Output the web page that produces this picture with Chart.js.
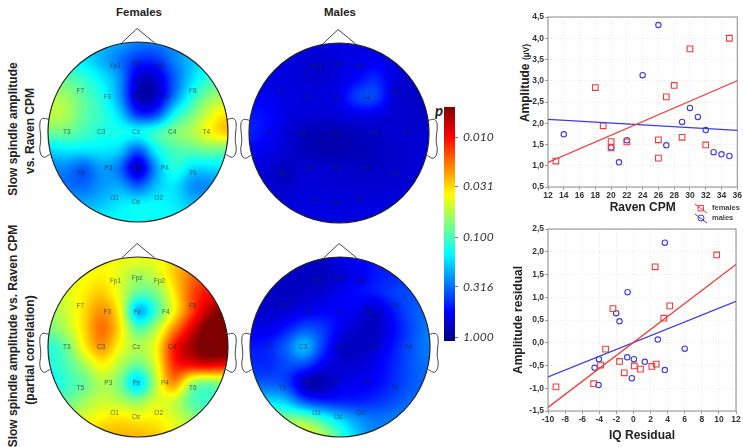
<!DOCTYPE html>
<html>
<head>
<meta charset="utf-8">
<title>Slow spindle amplitude vs. Raven CPM</title>
<script src="https://cdn.jsdelivr.net/npm/chart.js@4"></script>
<style>
  html, body { margin: 0; padding: 0; background: #fff; }
  body { position: relative; width: 743px; height: 447px; overflow: hidden; font-family: "Liberation Sans", Arial, sans-serif; filter: blur(0.35px); }
  canvas { position: absolute; }
  .txt { position: absolute; white-space: nowrap; color: #222; }
  .rot { transform: translate(-50%, -50%) rotate(-90deg); font-weight: bold; font-size: 12px; }
  .head { font-weight: bold; font-size: 11.5px; transform: translateX(-50%); }
</style>
</head>
<body>
<div class="txt head" style="left:139px;top:6px">Females</div>
<div class="txt head" style="left:340px;top:6px">Males</div>
<div class="txt rot" style="left:13px;top:129px">Slow spindle amplitude</div>
<div class="txt rot" style="left:30px;top:131px">vs. Raven CPM</div>
<div class="txt rot" style="left:13px;top:336px">Slow spindle amplitude vs. Raven CPM</div>
<div class="txt rot" style="left:30px;top:350px">(partial correlation)</div>
<div class="txt rot" style="left:525px;top:83px">Amplitude <span style="font-size:8.5px">(µV)</span></div>
<div class="txt" style="left:435px;top:101px;font:italic bold 15px Lato, sans-serif">p</div>

<canvas id="headFemales" width="220" height="220" style="left:27.5px;top:22px"></canvas>
<canvas id="headMales" width="220" height="220" style="left:229px;top:23px"></canvas>
<canvas id="headFemalesPartial" width="220" height="220" style="left:27.5px;top:237px"></canvas>
<canvas id="headMalesPartial" width="220" height="220" style="left:229.5px;top:237px"></canvas>
<canvas id="pBar" width="64" height="250" style="left:436px;top:100px"></canvas>
<canvas id="ravenScatter" width="238" height="221" style="left:505px;top:5px"></canvas>
<canvas id="iqScatter" width="238" height="225" style="left:505px;top:222px"></canvas>

<script>
// --- scatter data ---
const ravenFemalesX = [13, 18, 19, 20, 20, 22, 26, 26, 27, 28, 29, 30, 32, 35];
const ravenFemalesY = [1.11, 2.84, 1.94, 1.57, 1.42, 1.56, 1.61, 1.18, 2.62, 2.89, 1.67, 3.75, 1.49, 4.0];
const ravenMalesX = [14, 20, 21, 22, 24, 26, 27, 29, 30, 31, 32, 33, 34, 35];
const ravenMalesY = [1.74, 1.43, 1.08, 1.6, 3.13, 4.31, 1.48, 2.03, 2.36, 2.15, 1.84, 1.32, 1.27, 1.23];
const ravenFitX = [12, 36];
const ravenFitFemales = [1.08, 3.0];
const ravenFitMales = [2.09, 1.83];

const iqFemalesX = [-9.07, -4.66, -3.85, -3.26, -2.4, -1.63, -1.08, 0.09, 0.82, 2.15, 2.66, 2.54, 3.55, 4.25, 9.74];
const iqFemalesY = [-0.97, -0.9, -0.49, -0.14, 0.75, -0.41, -0.66, -0.51, -0.58, -0.52, -0.47, 1.67, 0.54, 0.81, 1.93];
const iqMalesX = [-4.55, -4.04, -4.08, -2.02, -1.63, -0.69, -0.73, -0.19, 0.05, 1.33, 2.85, 3.67, 3.67, 6.0];
const iqMalesY = [-0.55, -0.36, -0.93, 0.65, 0.47, 1.11, -0.32, -0.78, -0.36, -0.42, 0.07, 2.2, -0.6, -0.13];
const iqFitX = [-10, 12];
const iqFitFemales = [-1.42, 1.72];
const iqFitMales = [-0.75, 0.91];

// --- p colour bar ---
const pTicks = [0.010, 0.031, 0.100, 0.316, 1.000];
const pBarRange = [1.096, 0.00501];

// --- electrodes on the head (unit circle = scalp outline) ---
const sensorNames = ['Fp1','Fpz','Fp2','F7','F3','Fz','F4','F8','T3','C3','Cz','C4','T4','T5','P3','Pz','P4','T6','O1','Oz','O2'];
const sensorX = [-0.25,-0.01,0.24,-0.64,-0.34,-0.01,0.31,0.61,-0.79,-0.41,-0.02,0.38,0.76,-0.64,-0.33,-0.02,0.30,0.61,-0.26,-0.02,0.23];
const sensorY = [0.73,0.76,0.73,0.45,0.39,0.39,0.39,0.45,0,0,0,0,0,-0.46,-0.40,-0.40,-0.40,-0.46,-0.74,-0.78,-0.74];
const noseX = [-0.18, -0.01, 0.185];
const noseY = [0.99, 1.15, 0.99];
const earX = [0.99, 1.06, 1.09, 1.08, 1.09, 1.05, 0.98];
const earY = [0.14, 0.15, 0.10, -0.08, -0.21, -0.28, -0.25];

// --- topographic maps: -log10(p) on a regular grid ---
const gridSteps = [-1, -0.8, -0.6, -0.4, -0.2, 0, 0.2, 0.4, 0.6, 0.8, 1];
// rows run from the nose (y = 1) to the back of the head (y = -1)
const femalesField = [
  .75,.75,.75,.7,.65,.55,.55,.6,.7,.75,.75,
  .85,.85,.78,.65,.5,.35,.35,.55,.7,.8,.8,
  1.05,1.05,.95,.8,.6,.12,.12,.45,.75,.95,1.0,
  1.25,1.2,1.05,.9,.6,.05,.07,.5,.9,1.15,1.25,
  1.3,1.25,1.05,.95,.75,.3,.35,.85,1.1,1.35,1.5,
  1.1,1.1,1.0,.9,.9,.9,1.0,1.15,1.25,1.45,1.6,
  .75,.8,.8,.8,.75,.42,.85,1.0,1.05,1.1,1.05,
  .55,.55,.42,.62,.5,.02,.6,.95,.75,.75,.8,
  .55,.5,.48,.6,.65,.45,.7,.8,.55,.55,.6,
  .65,.65,.65,.7,.8,.85,.85,.8,.7,.65,.65,
  .8,.8,.8,.85,.85,.85,.85,.85,.8,.8,.8
];
const malesField = [
  .18,.18,.18,.18,.18,.18,.18,.18,.18,.18,.18,
  .18,.18,.18,.16,.13,.18,.2,.22,.18,.16,.16,
  .18,.18,.18,.16,.14,.18,.25,.36,.18,.14,.13,
  .24,.22,.19,.18,.18,.2,.42,.44,.17,.12,.11,
  .3,.27,.19,.17,.16,.17,.2,.18,.15,.13,.13,
  .33,.26,.16,.1,.07,.07,.1,.12,.15,.14,.15,
  .24,.2,.16,.1,.07,.07,.09,.1,.13,.15,.16,
  .18,.16,.09,.15,.15,.14,.12,.12,.14,.15,.16,
  .18,.16,.12,.17,.16,.15,.15,.15,.15,.16,.16,
  .18,.18,.18,.18,.18,.18,.18,.18,.18,.18,.18,
  .18,.18,.18,.18,.18,.18,.18,.18,.18,.18,.18
];
const femalesPartialField = [
  1.35,1.35,1.35,1.4,1.4,1.4,1.4,1.5,1.7,1.8,1.8,
  1.4,1.4,1.4,1.45,1.35,1.2,1.3,1.55,1.75,1.9,1.9,
  1.3,1.35,1.45,1.55,1.35,1.05,1.1,1.45,1.85,2.0,2.1,
  1.2,1.3,1.5,1.7,1.45,.55,.95,1.4,1.85,2.2,2.35,
  1.1,1.25,1.5,1.8,1.5,1.0,1.25,1.7,2.1,2.4,2.45,
  .9,1.05,1.45,1.7,1.4,1.25,1.4,2.0,2.25,2.45,2.45,
  .9,1.0,1.2,1.45,1.25,1.05,1.35,1.95,2.05,2.1,2.0,
  .8,.95,1.05,1.25,1.1,.65,1.25,1.75,1.15,1.05,1.2,
  1.0,1.05,1.2,1.3,1.25,1.15,1.35,1.3,1.0,.95,1.0,
  1.3,1.3,1.35,1.45,1.5,1.45,1.45,1.35,1.2,1.1,1.1,
  1.55,1.55,1.55,1.6,1.6,1.6,1.55,1.45,1.3,1.2,1.2
];
const malesPartialField = [
  .12,.12,.12,.12,.12,.2,.25,.3,.33,.33,.33,
  .12,.12,.12,.12,.1,.15,.2,.3,.33,.38,.38,
  .13,.13,.1,.12,.14,.22,.28,.32,.4,.42,.45,
  .15,.13,.14,.2,.24,.26,.2,.1,.3,.45,.5,
  .2,.2,.3,.45,.4,.22,.12,.1,.25,.42,.55,
  .3,.32,.48,.75,.4,.12,.1,.15,.3,.45,.55,
  .35,.33,.42,.42,.22,.14,.15,.22,.33,.45,.52,
  .45,.45,.4,.06,.03,.2,.22,.25,.35,.45,.5,
  .8,.75,.7,.4,.3,.3,.3,.35,.42,.5,.5,
  1.2,1.2,1.15,1.15,.95,.75,.6,.52,.55,.55,.55,
  1.45,1.45,1.45,1.45,1.3,1.0,.7,.55,.55,.55,.55
];

const clamp01 = v => Math.max(0, Math.min(1, v));

function jet(t) {
  const r = clamp01(Math.min(4 * t - 1.5, -4 * t + 4.5));
  const g = clamp01(Math.min(4 * t - 0.5, -4 * t + 3.5));
  const b = clamp01(Math.min(4 * t + 0.5, -4 * t + 2.5));
  return [Math.round(r * 255), Math.round(g * 255), Math.round(b * 255)];
}

// colour bar position of a -log10(p) value
function levelToT(s) {
  const lo = -Math.log10(pBarRange[0]);
  const hi = -Math.log10(pBarRange[1]);
  return clamp01((s - lo) / (hi - lo));
}

// cubic through the grid values, softened with a b-spline so the cells do not show
function cubic(p0, p1, p2, p3, f) {
  const through = 0.5 * (2 * p1 + (p2 - p0) * f + (2 * p0 - 5 * p1 + 4 * p2 - p3) * f * f + (3 * p1 - p0 - 3 * p2 + p3) * f * f * f);
  const g = 1 - f;
  const soft = (g * g * g * p0 + (3 * f * f * f - 6 * f * f + 4) * p1 + (-3 * f * f * f + 3 * f * f + 3 * f + 1) * p2 + f * f * f * p3) / 6;
  return 0.6 * through + 0.4 * soft;
}

function sampleField(field, hx, hy) {
  const n = gridSteps.length;
  const step = gridSteps[1] - gridSteps[0];
  const gx = Math.max(0, Math.min(n - 1.001, (hx - gridSteps[0]) / step));
  const gy = Math.max(0, Math.min(n - 1.001, (1 - hy) / step));
  const ix = Math.floor(gx), iy = Math.floor(gy);
  const at = (r, c) => field[Math.max(0, Math.min(n - 1, r)) * n + Math.max(0, Math.min(n - 1, c))];
  const row = r => cubic(at(r, ix - 1), at(r, ix), at(r, ix + 1), at(r, ix + 2), gx - ix);
  return cubic(row(iy - 1), row(iy), row(iy + 1), row(iy + 2), gy - iy);
}

// paints the cells of the first dataset inside the scalp outline, then outline and sensor names
const topoPlugin = {
  id: 'topo',
  beforeDatasetsDraw(chart) {
    const { ctx, scales: { x, y } } = chart;
    const field = chart.data.datasets[0].data.map(c => c.v);
    const x0 = Math.floor(x.getPixelForValue(-1)), x1 = Math.ceil(x.getPixelForValue(1));
    const y0 = Math.floor(y.getPixelForValue(1)), y1 = Math.ceil(y.getPixelForValue(-1));
    const w = x1 - x0, h = y1 - y0;
    const off = document.createElement('canvas');
    off.width = w; off.height = h;
    const octx = off.getContext('2d');
    const img = octx.createImageData(w, h);
    for (let j = 0; j < h; j++) {
      for (let i = 0; i < w; i++) {
        const c = jet(levelToT(sampleField(field, x.getValueForPixel(x0 + i + 0.5), y.getValueForPixel(y0 + j + 0.5))));
        const k = (j * w + i) * 4;
        img.data[k] = c[0]; img.data[k + 1] = c[1]; img.data[k + 2] = c[2]; img.data[k + 3] = 255;
      }
    }
    octx.putImageData(img, 0, 0);
    const cx = x.getPixelForValue(0), cy = y.getPixelForValue(0);
    const r = x.getPixelForValue(1) - cx;
    ctx.save();
    ctx.beginPath();
    ctx.arc(cx, cy, r, 0, Math.PI * 2);
    ctx.clip();
    ctx.drawImage(off, x0, y0);
    ctx.restore();
  },
  afterDatasetsDraw(chart) {
    const { ctx, scales: { x, y } } = chart;
    const cx = x.getPixelForValue(0), cy = y.getPixelForValue(0);
    ctx.save();
    ctx.beginPath();
    ctx.arc(cx, cy, x.getPixelForValue(1) - cx, 0, Math.PI * 2);
    ctx.strokeStyle = '#222';
    ctx.lineWidth = 1.2;
    ctx.stroke();
    ctx.font = '6.5px "Liberation Sans", Arial, sans-serif';
    ctx.fillStyle = 'rgba(20,40,50,0.72)';
    ctx.textAlign = 'center';
    ctx.textBaseline = 'middle';
    chart.data.datasets[1].data.forEach((p, i) => {
      ctx.fillText(sensorNames[i], x.getPixelForValue(p.x), y.getPixelForValue(p.y));
    });
    ctx.restore();
  }
};

function headChart(id, field) {
  const cells = [];
  gridSteps.slice().reverse().forEach((gy, r) => {
    gridSteps.forEach((gx, c) => cells.push({ x: gx, y: gy, v: field[r * gridSteps.length + c] }));
  });
  const outline = { showLine: true, pointRadius: 0, borderColor: '#444', borderWidth: 1, fill: false };
  return new Chart(document.getElementById(id), {
    type: 'scatter',
    data: {
      datasets: [
        { label: 'field', data: cells, pointRadius: 0 },
        { label: 'sensors', data: sensorNames.map((n, i) => ({ x: sensorX[i], y: sensorY[i] })), pointRadius: 0 },
        { label: 'nose', data: noseX.map((v, i) => ({ x: v, y: noseY[i] })), ...outline },
        { label: 'ear', data: earX.map((v, i) => ({ x: -v, y: earY[i] })), tension: 0.4, ...outline },
        { label: 'ear', data: earX.map((v, i) => ({ x: v, y: earY[i] })), tension: 0.4, ...outline }
      ]
    },
    options: {
      responsive: false,
      animation: false,
      events: [],
      layout: { padding: 0 },
      plugins: { legend: { display: false }, tooltip: { enabled: false } },
      scales: {
        x: { type: 'linear', display: false, min: -110 / 90, max: 110 / 90 },
        y: { type: 'linear', display: false, min: -110 / 90, max: 110 / 90 }
      }
    },
    plugins: [topoPlugin]
  });
}

headChart('headFemales', femalesField);
headChart('headMales', malesField);
headChart('headFemalesPartial', femalesPartialField);
headChart('headMalesPartial', malesPartialField);

// colour bar: one floating bar on a reversed log p axis
new Chart(document.getElementById('pBar'), {
  type: 'bar',
  data: {
    labels: ['p'],
    datasets: [{
      data: [pBarRange],
      barPercentage: 1,
      categoryPercentage: 1,
      borderSkipped: false,
      borderWidth: 0,
      backgroundColor(c) {
        const area = c.chart.chartArea;
        if (!area) return '#00f';
        const g = c.chart.ctx.createLinearGradient(0, area.bottom, 0, area.top);
        for (let i = 0; i <= 16; i++) {
          const rgb = jet(i / 16);
          g.addColorStop(i / 16, `rgb(${rgb[0]},${rgb[1]},${rgb[2]})`);
        }
        return g;
      }
    }]
  },
  options: {
    responsive: false,
    animation: false,
    events: [],
    layout: { padding: { left: 8, top: 7, bottom: 9, right: 0 } },
    plugins: { legend: { display: false }, tooltip: { enabled: false } },
    scales: {
      x: { display: false },
      y: {
        type: 'logarithmic',
        position: 'right',
        reverse: true,
        bounds: 'data',
        min: pBarRange[1],
        max: pBarRange[0],
        afterBuildTicks(axis) { axis.ticks = pTicks.map(v => ({ value: v })); },
        afterFit(axis) { axis.width = 45; axis.paddingTop = 0; axis.paddingBottom = 0; },
        border: { display: false },
        grid: { drawOnChartArea: false, tickLength: 3, tickColor: '#777' },
        ticks: {
          autoSkip: false,
          padding: 5,
          color: '#333',
          font: { family: 'Lato, sans-serif', style: 'italic', size: 12 },
          callback: v => v.toFixed(3)
        }
      }
    }
  }
});

// frame round the plot area and the small key of the upper panel
const framePlugin = {
  id: 'frame',
  beforeDatasetsDraw(chart) {
    const a = chart.chartArea;
    chart.ctx.save();
    chart.ctx.strokeStyle = '#8a8a8a';
    chart.ctx.lineWidth = 1;
    chart.ctx.strokeRect(a.left, a.top, a.right - a.left, a.bottom - a.top);
    chart.ctx.restore();
  },
  afterDraw(chart) {
    const key = chart.options.plugins.frame.key;
    if (!key) return;
    const ctx = chart.ctx;
    ctx.save();
    key.forEach(k => {
      ctx.strokeStyle = k.color;
      ctx.lineWidth = 1;
      ctx.beginPath();
      ctx.moveTo(190, k.y - 4);
      ctx.lineTo(202, k.y + 5);
      ctx.stroke();
      ctx.beginPath();
      if (k.square) ctx.rect(193, k.y - 2.5, 5.5, 5.5);
      else ctx.arc(196, k.y, 3, 0, Math.PI * 2);
      ctx.stroke();
      ctx.fillStyle = '#444';
      ctx.font = 'bold 7.5px "Liberation Sans", Arial, sans-serif';
      ctx.textBaseline = 'middle';
      ctx.fillText(k.text, 207, k.y);
    });
    ctx.restore();
  }
};

const RED = 'rgb(240,60,60)';
const BLUE = 'rgb(60,60,225)';
const toPoints = (xs, ys) => xs.map((v, i) => ({ x: v, y: ys[i] }));

function scatterChart(id, cfg) {
  const tickFont = { family: '"Liberation Sans", Arial, sans-serif', size: 8.5, weight: 'bold' };
  const grid = { color: '#dcdcdc', tickColor: '#777', tickLength: 3, lineWidth: 0.7 };
  const border = { display: false, dash: [1, 2] };
  return new Chart(document.getElementById(id), {
    type: 'scatter',
    data: {
      datasets: [
        { label: 'females fit', data: toPoints(cfg.fitX, cfg.fitFemales), showLine: true, pointRadius: 0, borderColor: RED, borderWidth: 1.3 },
        { label: 'males fit', data: toPoints(cfg.fitX, cfg.fitMales), showLine: true, pointRadius: 0, borderColor: BLUE, borderWidth: 1.3 },
        { label: 'females', data: toPoints(cfg.femalesX, cfg.femalesY), pointStyle: 'rect', pointRadius: 4, borderColor: RED, backgroundColor: 'transparent', borderWidth: 1.1 },
        { label: 'males', data: toPoints(cfg.malesX, cfg.malesY), pointStyle: 'circle', pointRadius: 2.7, borderColor: BLUE, backgroundColor: 'transparent', borderWidth: 1.1 }
      ]
    },
    options: {
      responsive: false,
      animation: false,
      events: [],
      layout: { padding: cfg.padding },
      plugins: { legend: { display: false }, tooltip: { enabled: false }, frame: { key: cfg.key } },
      scales: {
        x: {
          type: 'linear',
          min: cfg.xMin, max: cfg.xMax,
          afterFit(axis) { axis.height = cfg.xHeight; },
          grid, border,
          ticks: { stepSize: 2, autoSkip: false, maxRotation: 0, color: '#333', font: tickFont, padding: 1 },
          title: { display: true, text: cfg.xTitle, color: '#222', font: { family: tickFont.family, size: 12, weight: 'bold' }, padding: { top: 3, bottom: 0 } }
        },
        y: {
          type: 'linear',
          min: cfg.yMin, max: cfg.yMax,
          afterFit(axis) { axis.width = cfg.yWidth; },
          grid, border,
          ticks: { stepSize: 0.5, color: '#333', font: tickFont, padding: 1, callback: v => v.toFixed(1).replace('.', ',') },
          title: { display: !!cfg.yTitle, text: cfg.yTitle || '', color: '#222', font: { family: tickFont.family, size: 12, weight: 'bold' }, padding: { top: 6, bottom: 0 } }
        }
      }
    },
    plugins: [framePlugin]
  });
}

scatterChart('ravenScatter', {
  femalesX: ravenFemalesX, femalesY: ravenFemalesY, malesX: ravenMalesX, malesY: ravenMalesY,
  fitX: ravenFitX, fitFemales: ravenFitFemales, fitMales: ravenFitMales,
  xMin: 12, xMax: 36, yMin: 0.5, yMax: 4.5,
  xTitle: 'Raven CPM',
  padding: { top: 12, right: 5, left: 0, bottom: 11 }, xHeight: 28, yWidth: 43,
  key: [
    { text: 'females', color: RED, square: true, y: 203 },
    { text: 'males', color: BLUE, square: false, y: 213 }
  ]
});

scatterChart('iqScatter', {
  femalesX: iqFemalesX, femalesY: iqFemalesY, malesX: iqMalesX, malesY: iqMalesY,
  fitX: iqFitX, fitFemales: iqFitFemales, fitMales: iqFitMales,
  xMin: -10, xMax: 12, yMin: -1.5, yMax: 2.5,
  xTitle: 'IQ Residual', yTitle: 'Amplitude residual',
  padding: { top: 7, right: 7, left: 0, bottom: 4 }, xHeight: 32, yWidth: 43
});
</script>
</body>
</html>
